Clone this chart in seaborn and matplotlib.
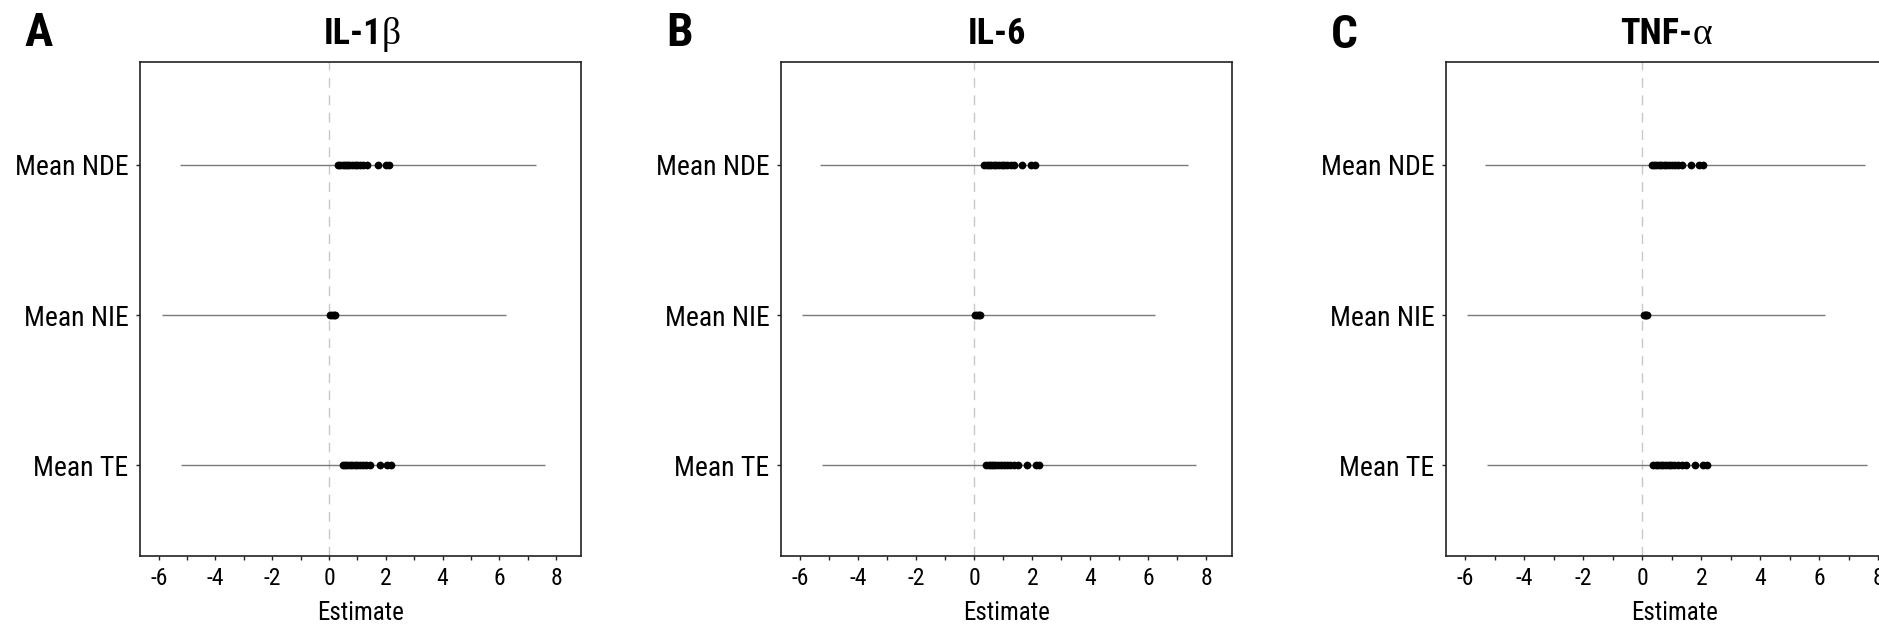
import matplotlib
matplotlib.use('Agg')
import matplotlib.pyplot as plt
from matplotlib import font_manager as fm
import seaborn as sns
import pandas as pd
from matplotlib.ticker import MultipleLocator, NullLocator

sns.set_theme(style='white')
_avail = {f.name for f in fm.fontManager.ttflist}
_pref = ['Liberation Sans Narrow', 'Arial Narrow', 'Roboto Condensed', 'Archivo Narrow',
         'PT Sans Narrow', 'Fira Sans Condensed', 'Liberation Sans']
NARROW = next((n for n in _pref if n in _avail), 'DejaVu Sans')
FAM = [NARROW, 'Liberation Sans', 'DejaVu Sans']
plt.rcParams['font.family'] = FAM
plt.rcParams['axes.unicode_minus'] = False

# ---------------- data ----------------
effects = ['Mean NDE', 'Mean NIE', 'Mean TE']
panel_letters = ['A', 'B', 'C']
title_main = ['IL-1', 'IL-6', 'TNF-']
title_greek = ['\u03b2', '', '\u03b1']
x_ticks = [-6, -4, -2, 0, 2, 4, 6, 8]
x_label = 'Estimate'

# point estimates
il1b_nde = [0.32, 0.40, 0.48, 0.56, 0.64, 0.72, 0.80, 0.90, 1.00, 1.10, 1.20, 1.34, 1.71, 2.00, 2.10]
il1b_nie = [0.04, 0.10, 0.16, 0.21]
il1b_te = [0.49, 0.57, 0.65, 0.73, 0.81, 0.90, 1.00, 1.10, 1.20, 1.32, 1.44, 1.79, 2.06, 2.20]

il6_nde = [0.35, 0.43, 0.51, 0.59, 0.67, 0.75, 0.84, 0.94, 1.04, 1.14, 1.25, 1.37, 1.66, 1.95, 2.09]
il6_nie = [0.03, 0.10, 0.16, 0.20]
il6_te = [0.41, 0.49, 0.57, 0.65, 0.73, 0.82, 0.92, 1.02, 1.12, 1.24, 1.36, 1.49, 1.80, 2.12, 2.23]

tnf_nde = [0.32, 0.40, 0.48, 0.56, 0.64, 0.72, 0.80, 0.90, 1.00, 1.10, 1.22, 1.35, 1.66, 1.93, 2.07]
tnf_nie = [0.06, 0.10, 0.13, 0.16]
tnf_te = [0.38, 0.46, 0.54, 0.62, 0.70, 0.79, 0.89, 0.99, 1.09, 1.20, 1.34, 1.49, 1.78, 2.07, 2.20]

# interval ends (NDE, NIE, TE)
il1b_low = [-5.26, -5.88, -5.23]
il1b_high = [7.30, 6.23, 7.60]
il6_low = [-5.30, -5.93, -5.25]
il6_high = [7.37, 6.21, 7.65]
tnf_low = [-5.34, -5.96, -5.27]
tnf_high = [7.55, 6.20, 7.62]

panels = [
    (il1b_nde, il1b_nie, il1b_te, il1b_low, il1b_high),
    (il6_nde, il6_nie, il6_te, il6_low, il6_high),
    (tnf_nde, tnf_nie, tnf_te, tnf_low, tnf_high),
]

# ---------------- layout ----------------
W, H = 1879, 634
fig = plt.figure(figsize=(W / 100, H / 100), dpi=100)
fig.patch.set_facecolor('white')

ax_left_px = [140, 781, 1446]
ax_right_px = [581, 1232, 1904]
ax_top_px, ax_bot_px = 62, 556
title_cx_px = [362, 997, 1666]
letter_x_px = [24, 666, 1331]
letter_base_px = [46, 46, 48]

renderer = fig.canvas.get_renderer()

for i, (nde, nie, te, low, high) in enumerate(panels):
    l = ax_left_px[i] / W
    w = (ax_right_px[i] - ax_left_px[i]) / W
    b = 1 - ax_bot_px / H
    h = (ax_bot_px - ax_top_px) / H
    ax = fig.add_axes([l, b, w, h])
    ax.set_facecolor('white')

    df = pd.DataFrame({
        'effect': [effects[0]] * len(nde) + [effects[1]] * len(nie) + [effects[2]] * len(te),
        'estimate': list(nde) + list(nie) + list(te),
    })
    ci = pd.DataFrame({'effect': effects, 'low': low, 'high': high})

    ax.axvline(0, color='#c8c8c8', lw=1.0, ls=(0, (7, 5.5)), zorder=0.5)
    sns.stripplot(data=df, x='estimate', y='effect', order=effects, jitter=False,
                  color='black', size=5.6, linewidth=0, ax=ax, zorder=3)
    ypos = [effects.index(e) for e in ci['effect']]
    ax.hlines(ypos, ci['low'], ci['high'], color='#7a7a7a', lw=1.0, zorder=1)

    ax.set_xlim(-6.66, 8.88)
    ax.set_ylim(2.605, -0.686)
    ax.set_xticks(x_ticks)
    ax.set_xticklabels([str(t) for t in x_ticks])
    ax.xaxis.set_minor_locator(MultipleLocator(1))
    ax.yaxis.set_minor_locator(NullLocator())
    ax.tick_params(axis='x', which='both', bottom=True, length=3.2, width=1.0,
                   color='#222222', labelsize=17, pad=4.5, labelcolor='black')
    ax.tick_params(axis='y', which='major', left=True, length=3.2, width=1.0,
                   color='#222222', labelsize=20, pad=5, labelcolor='black')
    ax.set_xlabel(x_label, fontsize=18, labelpad=8, color='black')
    ax.set_ylabel('')
    ax.grid(False)
    for s in ax.spines.values():
        s.set_visible(True)
        s.set_color('#222222')
        s.set_linewidth(1.2)

    # panel letter
    fig.text(letter_x_px[i] / W, 1 - letter_base_px[i] / H, panel_letters[i],
             fontsize=34, fontweight='bold', ha='left', va='baseline', color='black')

    # title: bold sans part + serif greek part, centred as a whole
    ty = 1 - 44 / H
    t1 = fig.text(0, ty, title_main[i], fontsize=26, fontweight='bold',
                  ha='left', va='baseline', color='black')
    w1 = t1.get_window_extent(renderer).width
    w2 = 0
    t2 = None
    if title_greek[i]:
        t2 = fig.text(0, ty, title_greek[i], fontsize=27, family=['Liberation Serif', 'DejaVu Serif'],
                      ha='left', va='baseline', color='black')
        w2 = t2.get_window_extent(renderer).width
    x0 = title_cx_px[i] - (w1 + w2) / 2
    t1.set_x(x0 / W)
    if t2 is not None:
        t2.set_x((x0 + w1) / W)

fig.savefig('out.png', dpi=100, facecolor='white')
